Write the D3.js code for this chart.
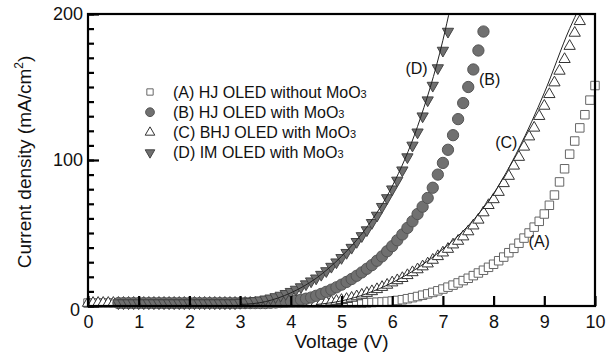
<!DOCTYPE html>
<html>
<head>
<meta charset="utf-8">
<script src="https://cdn.jsdelivr.net/npm/d3@7"></script>
<style>
  body { margin: 0; background: #fff; }
  svg text { font-family: "Liberation Sans", Arial, sans-serif; fill: #111; }
</style>
</head>
<body>
<div id="chart"></div>
<script>
// voltage step of the measurement (V)
const step = 0.1

// (A) HJ OLED without MoO3, from 0 V
const aStart = 0
const aValues = [
  2,2,2,2,2,2,2,2,2,2, 2,2,2,2,2,2,2,2,2,2, 2,2,2,2,2,2,2,2,2,2,
  2,2,2,2,2,2,2,2,2,2, 2,2,2,2,2,2,2,2,2,2, 2,2,2,2,2,
  2.2,2.4,2.6,2.8,3.1,3.4,3.8,4.3,5,5.7,6.5,7.4,8.3,9.3,10.4,11.6,12.9,14.3,15.8,17.4,
  19,20.8,22.6,24.5,26.5,28.6,31,33.5,36.5,39.5,43,46.5,50,54,58,63,69,76,85,94,
  104,113,122,131,141,151
]
// (B) HJ OLED with MoO3, from 0.6 V
const bStart = 0.6
const bValues = [
  2,2,2,2,2,2,2,2,2,2, 2,2,2,2,2,2,2,2,2,2, 2,2,2,2,2,2,2,2,2,2,
  2.2,2.4,2.7,3,3.4,3.8,4.3,5,5.8,7,8.3,9.7,11.2,12.8,14.6,16.5,18.5,20.7,23,25.5,
  28,31,34,37.5,41,45,49,53.5,58,63,68,74,81,90,98,107,117,128,139,150,
  162,175,188
]
// (C) BHJ OLED with MoO3, from 0 V
const cStart = 0
const cValues = [
  2,2,2,2,2,2,2,2,2,2, 2,2,2,2,2,2,2,2,2,2, 2,2,2,2,2,2,2,2,2,2,
  2,2,2,2,2,2,2,2,2,2, 2,2,2,2,2,2,
  2.3,2.6,2.9,3.4,4,4.7,5.5,6.5,7.6,8.8,10,11.4,12.9,14.4,16,17.5,19,21,23,25,
  27,29,31.5,34,36.5,39,42,44.5,47.5,51,55,59,64,69,73,78,84,89,96,102,
  109,116,122,130,137,145,153,161,169,178,187,195
]
// (D) IM OLED with MoO3, from 0.6 V
const dStart = 0.6
const dValues = [
  2,2,2,2,2,2,2,2,2,2, 2,2,2,2,2,2,2,2,2,2, 2,2,2,2,
  2.3,2.6,3,3.5,4,4.6,5.3,6.2,7.2,8.4,9.8,11.3,13,15,17,19,21.5,24,27,30,
  33,36.5,40,44,48,52,57,62,68,74,80,86,93,102,110,119,130,141,151,163,
  175,188
]

// thin fitted curves drawn over (C) and (D)
const fitCV = [4.5, 5, 5.5, 6, 6.5, 7, 7.5, 8, 8.5, 9, 9.5, 9.7]
const fitCJ = [1, 3.5, 8.5, 16, 26, 39, 55, 77, 108, 146, 190, 205]
const fitDV = [3, 3.5, 4, 4.5, 5, 5.5, 6, 6.5, 7, 7.15]
const fitDJ = [1, 3, 9, 19, 34, 54, 82, 123, 182, 205]

const legendLabels = [
  '(A) HJ OLED without MoO',
  '(B) HJ OLED with MoO',
  '(C) BHJ OLED with MoO',
  '(D) IM OLED with MoO'
]
const curveTags = [
  { text: '(A)', v: 8.9, j: 44 },
  { text: '(B)', v: 7.92, j: 155 },
  { text: '(C)', v: 8.25, j: 112 },
  { text: '(D)', v: 6.48, j: 163 }
]
const xTicks = [0, 1, 2, 3, 4, 5, 6, 7, 8, 9, 10]
const yTicks = [0, 100, 200]

const width = 613
const height = 355
const margin = { top: 14, right: 18, bottom: 49, left: 88 }

const svg = d3.select('#chart')
  .append('svg')
  .attr('width', width)
  .attr('height', height)

const x = d3.scaleLinear().domain([0, 10]).range([margin.left, width - margin.right])
const y = d3.scaleLinear().domain([0, 200]).range([height - margin.bottom, margin.top])

const toPoints = (start, vals) => vals.map((j, i) => ({ v: start + i * step, j }))

svg.append('clipPath').attr('id', 'plot')
  .append('rect')
  .attr('x', margin.left)
  .attr('y', margin.top)
  .attr('width', x(10) - margin.left)
  .attr('height', y(0) - margin.top)

const sq = d3.symbol().type(d3.symbolSquare).size(72)
const circ = d3.symbol().type(d3.symbolCircle).size(100)
const tri = d3.symbol().type(d3.symbolTriangle).size(55)

const series = [
  { pts: toPoints(aStart, aValues), sym: sq, fill: '#fff', stroke: '#666', rot: 0 },
  { pts: toPoints(cStart, cValues), sym: tri, fill: '#fff', stroke: '#333', rot: 0 },
  { pts: toPoints(bStart, bValues), sym: circ, fill: '#707070', stroke: '#555', rot: 0 },
  { pts: toPoints(dStart, dValues), sym: tri, fill: '#6f6f6f', stroke: '#444', rot: 180 }
]

const plot = svg.append('g')

series.forEach(s => {
  plot.append('g')
    .selectAll('path')
    .data(s.pts)
    .join('path')
    .attr('d', s.sym())
    .attr('transform', d => `translate(${x(d.v)},${y(d.j)}) rotate(${s.rot})`)
    .attr('fill', s.fill)
    .attr('stroke', s.stroke)
    .attr('stroke-width', 1)
})

// fits
const line = d3.line().x(d => x(d[0])).y(d => y(d[1])).curve(d3.curveMonotoneX)
;[[fitCV, fitCJ], [fitDV, fitDJ]].forEach(([vs, js]) => {
  plot.append('path')
    .attr('d', line(vs.map((v, i) => [v, js[i]])))
    .attr('fill', 'none')
    .attr('stroke', '#222')
    .attr('stroke-width', 1)
    .attr('clip-path', 'url(#plot)')
})

// frame
svg.append('rect')
  .attr('x', margin.left)
  .attr('y', margin.top)
  .attr('width', x(10) - margin.left)
  .attr('height', y(0) - margin.top)
  .attr('fill', 'none')
  .attr('stroke', '#000')
  .attr('stroke-width', 2.2)

// x axis, ticks inward
const xAxis = d3.axisBottom(x).tickValues(xTicks).tickSizeInner(-10).tickSizeOuter(0).tickPadding(9)
const gx = svg.append('g')
  .attr('transform', `translate(0,${y(0)})`)
  .call(xAxis)
gx.select('.domain').remove()
gx.selectAll('.tick line').attr('stroke', '#000').attr('stroke-width', 2.2)
gx.selectAll('.tick text').style('font-size', '18px')

// y axis: major and minor ticks inward
const yMinor = d3.axisLeft(y).tickValues(d3.range(0, 201, 10)).tickSizeInner(-6).tickSizeOuter(0).tickFormat('')
const gyMinor = svg.append('g').attr('transform', `translate(${margin.left},0)`).call(yMinor)
gyMinor.select('.domain').remove()
gyMinor.selectAll('.tick line').attr('stroke', '#000').attr('stroke-width', 2.2)

const yAxis = d3.axisLeft(y).tickValues(yTicks).tickSizeInner(-11).tickSizeOuter(0).tickPadding(5)
const gy = svg.append('g').attr('transform', `translate(${margin.left},0)`).call(yAxis)
gy.select('.domain').remove()
gy.selectAll('.tick line').attr('stroke', '#000').attr('stroke-width', 2.2)
gy.selectAll('.tick text').style('font-size', '18px')
gy.selectAll('.tick text').filter(d => d === 0).attr('dy', '0.55em').attr('x', -8)

// axis titles
svg.append('text')
  .attr('x', x(5))
  .attr('y', 348)
  .attr('text-anchor', 'middle')
  .style('font-size', '19px')
  .text('Voltage (V)')

const yt = svg.append('text')
  .attr('transform', `translate(31,${y(100) + 2}) rotate(-90)`)
  .attr('text-anchor', 'middle')
  .style('font-size', '19px')
yt.append('tspan').text('Current density (mA/cm')
yt.append('tspan').attr('dy', -8).style('font-size', '12px').text('2')
yt.append('tspan').attr('dy', 8).text(')')

// legend
const legendSyms = [
  { sym: d3.symbol().type(d3.symbolSquare).size(40), fill: '#fff', stroke: '#666', rot: 0 },
  { sym: d3.symbol().type(d3.symbolCircle).size(60), fill: '#707070', stroke: '#555', rot: 0 },
  { sym: d3.symbol().type(d3.symbolTriangle).size(40), fill: '#fff', stroke: '#333', rot: 0 },
  { sym: d3.symbol().type(d3.symbolTriangle).size(40), fill: '#6f6f6f', stroke: '#444', rot: 180 }
]
const legend = svg.append('g').attr('transform', 'translate(150,92)')
legendLabels.forEach((label, i) => {
  const row = legend.append('g').attr('transform', `translate(0,${i * 20.2})`)
  row.append('path')
    .attr('d', legendSyms[i].sym())
    .attr('transform', `rotate(${legendSyms[i].rot})`)
    .attr('fill', legendSyms[i].fill)
    .attr('stroke', legendSyms[i].stroke)
  const t = row.append('text')
    .attr('x', 23)
    .attr('dy', '0.35em')
    .style('font-size', '16px')
  t.append('tspan').text(label)
  t.append('tspan').style('font-size', '11px').text('3')
})

// curve tags
svg.append('g')
  .selectAll('text')
  .data(curveTags)
  .join('text')
  .attr('x', d => x(d.v))
  .attr('y', d => y(d.j))
  .attr('dy', '0.35em')
  .attr('text-anchor', 'middle')
  .style('font-size', '16px')
  .text(d => d.text)
</script>
</body>
</html>
